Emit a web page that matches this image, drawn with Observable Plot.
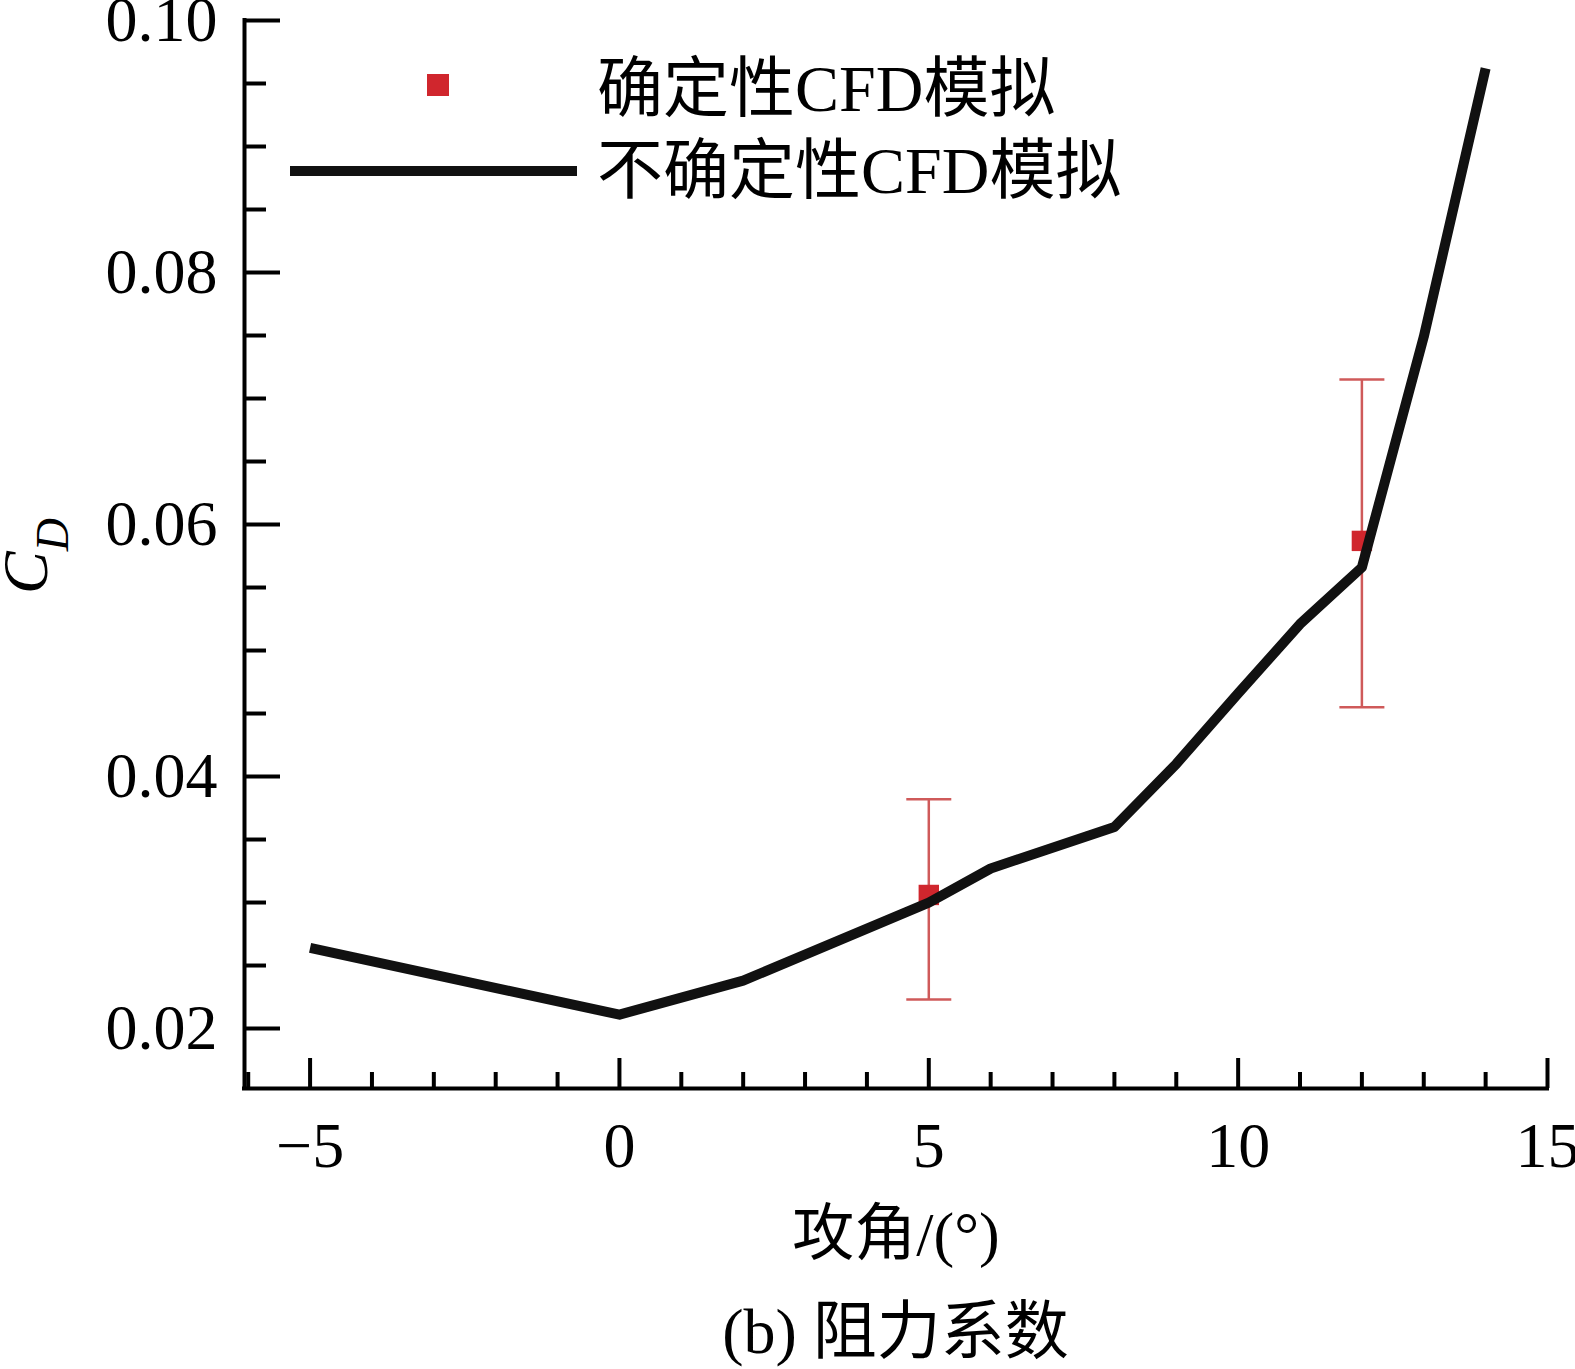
<!DOCTYPE html>
<html>
<head>
<meta charset="utf-8">
<script src="https://cdn.jsdelivr.net/npm/d3@7"></script>
<script src="https://cdn.jsdelivr.net/npm/@observablehq/plot@0.6"></script>
<style>
  body { margin: 0; background: #fff; }
  #wrap { position: relative; width: 1575px; height: 1369px; font-family: "Liberation Serif", "Noto Sans CJK SC", serif; color: #000; }
  #chart { position: absolute; left: 0; top: 0; }
  .overlay { position: absolute; left: 0; top: 0; pointer-events: none; }
  #caption { position: absolute; left: 244px; width: 1303px; top: 1300px; text-align: center; font-size: 64px; line-height: 1; white-space: nowrap; }
</style>
</head>
<body>
<div id="wrap">
  <div id="chart"></div>
  <svg class="overlay" id="legend" width="1200" height="230"></svg>
  <svg class="overlay" id="ylab" width="130" height="1369"></svg>
  <div id="caption"></div>
</div>
<script>
// ---- data ----
const aoa = [-5, 0, 2, 5, 6, 8, 9, 10, 11, 12, 13, 14];
const cdUncertain = [0.0264, 0.0211, 0.0238, 0.0300, 0.0327, 0.0360, 0.0410, 0.0466, 0.0521, 0.0566, 0.0749, 0.0962];

const detAoa = [5, 12];
const detCd = [0.0306, 0.0587];
const detLow = [0.0223, 0.0455];
const detHigh = [0.0382, 0.0715];

const xMajorTicks = [-5, 0, 5, 10, 15];
const xMinorTicks = [-6, -4, -3, -2, -1, 1, 2, 3, 4, 6, 7, 8, 9, 11, 12, 13, 14];
const yMajorTicks = [0.02, 0.04, 0.06, 0.08, 0.10];
const yMinorTicks = [0.025, 0.03, 0.035, 0.045, 0.05, 0.055, 0.065, 0.07, 0.075, 0.085, 0.09, 0.095];

const xDomain = [-6.06, 15];
const yDomain = [0.01524, 0.10];

const legendLabels = ["确定性CFD模拟", "不确定性CFD模拟"];
const xLabel = "攻角/(°)";
const caption = "(b) 阻力系数";

// ---- tables ----
const lineData = aoa.map((x, i) => ({x, y: cdUncertain[i]}));
const detData = detAoa.map((x, i) => ({x, y: detCd[i], lo: detLow[i], hi: detHigh[i]}));

// ---- styles ----
const W = 1575, H = 1290;
const mL = 244, mR = 28, mT = 20, mB = 202;
const plotW = W - mL - mR, plotH = H - mT - mB;
const red = "#d0262d";
const errRed = "#cf5a5a";
const capSymbol = { draw(ctx) { ctx.moveTo(-22.5, 0); ctx.lineTo(22.5, 0); } };

const chart = Plot.plot({
  width: W, height: H,
  marginLeft: mL, marginRight: mR, marginTop: mT, marginBottom: mB,
  x: { domain: xDomain },
  y: { domain: yDomain },
  style: { fontFamily: "'Liberation Serif', 'Noto Sans CJK SC', serif", fontSize: "64px", background: "#fff", color: "#000", overflow: "visible" },
  marks: [
    // spines
    Plot.ruleX([xDomain[0]], { stroke: "#000", strokeWidth: 4, strokeLinecap: "square" }),
    Plot.ruleY([yDomain[0]], { stroke: "#000", strokeWidth: 4, strokeLinecap: "square" }),
    // inward ticks
    Plot.tickY(yMajorTicks, { y: d => d, insetRight: plotW - 36, stroke: "#000", strokeWidth: 4 }),
    Plot.tickY(yMinorTicks, { y: d => d, insetRight: plotW - 22, stroke: "#000", strokeWidth: 4 }),
    Plot.tickX(xMajorTicks, { x: d => d, insetTop: plotH - 30, stroke: "#000", strokeWidth: 4 }),
    Plot.tickX(xMinorTicks, { x: d => d, insetTop: plotH - 16, stroke: "#000", strokeWidth: 4 }),
    // axis labels
    Plot.axisY(yMajorTicks, { tickSize: 0, tickPadding: 27, tickFormat: d3.format(".2f"), fontSize: 64, label: null }),
    Plot.axisX(xMajorTicks, { tickSize: 0, tickPadding: 33, tickFormat: d => d < 0 ? "\u2212" + Math.abs(d) : String(d), fontSize: 64, label: null }),
    Plot.text([xLabel], { text: d => d, frameAnchor: "bottom", dy: 166, fontSize: 62 }),
    // deterministic CFD with error bars
    Plot.ruleX(detData, { x: "x", y1: "lo", y2: "hi", stroke: errRed, strokeWidth: 2.5 }),
    Plot.dot(detData, { x: "x", y: "lo", symbol: capSymbol, stroke: errRed, strokeWidth: 2.5, fill: "none" }),
    Plot.dot(detData, { x: "x", y: "hi", symbol: capSymbol, stroke: errRed, strokeWidth: 2.5, fill: "none" }),
    Plot.dot(detData, { x: "x", y: "y", symbol: "square", r: 11.5, fill: red, stroke: "none" }),
    // uncertain CFD line
    Plot.line(lineData, { x: "x", y: "y", stroke: "#111", strokeWidth: 10, strokeLinejoin: "round", strokeLinecap: "butt" })
  ]
});
document.getElementById("chart").appendChild(chart);

// ---- legend (overlay) ----
const ns = "http://www.w3.org/2000/svg";
const leg = document.getElementById("legend");
function el(tag, attrs, text) {
  const e = document.createElementNS(ns, tag);
  for (const k in attrs) e.setAttribute(k, attrs[k]);
  if (text != null) e.textContent = text;
  return e;
}
leg.appendChild(el("rect", { x: 427, y: 74, width: 22, height: 22, fill: red }));
leg.appendChild(el("line", { x1: 290, x2: 577, y1: 171, y2: 171, stroke: "#111", "stroke-width": 10 }));
legendLabels.forEach((t, i) => {
  leg.appendChild(el("text", { x: 597, y: i === 0 ? 111 : 193, "font-size": 66,
    "font-family": "'Liberation Serif', 'Noto Sans CJK SC', serif", fill: "#000" }, t));
});

// ---- y label C_D (overlay) ----
const ylab = document.getElementById("ylab");
const yt = el("text", { transform: "translate(47,594) rotate(-90)", "font-size": 64, "font-style": "italic",
  "font-family": "'Liberation Serif', serif", fill: "#000" });
yt.appendChild(document.createTextNode("C"));
const sub = el("tspan", { "font-size": 46, dy: 21 }, "D");
yt.appendChild(sub);
ylab.appendChild(yt);

document.getElementById("caption").textContent = caption;
</script>
</body>
</html>
